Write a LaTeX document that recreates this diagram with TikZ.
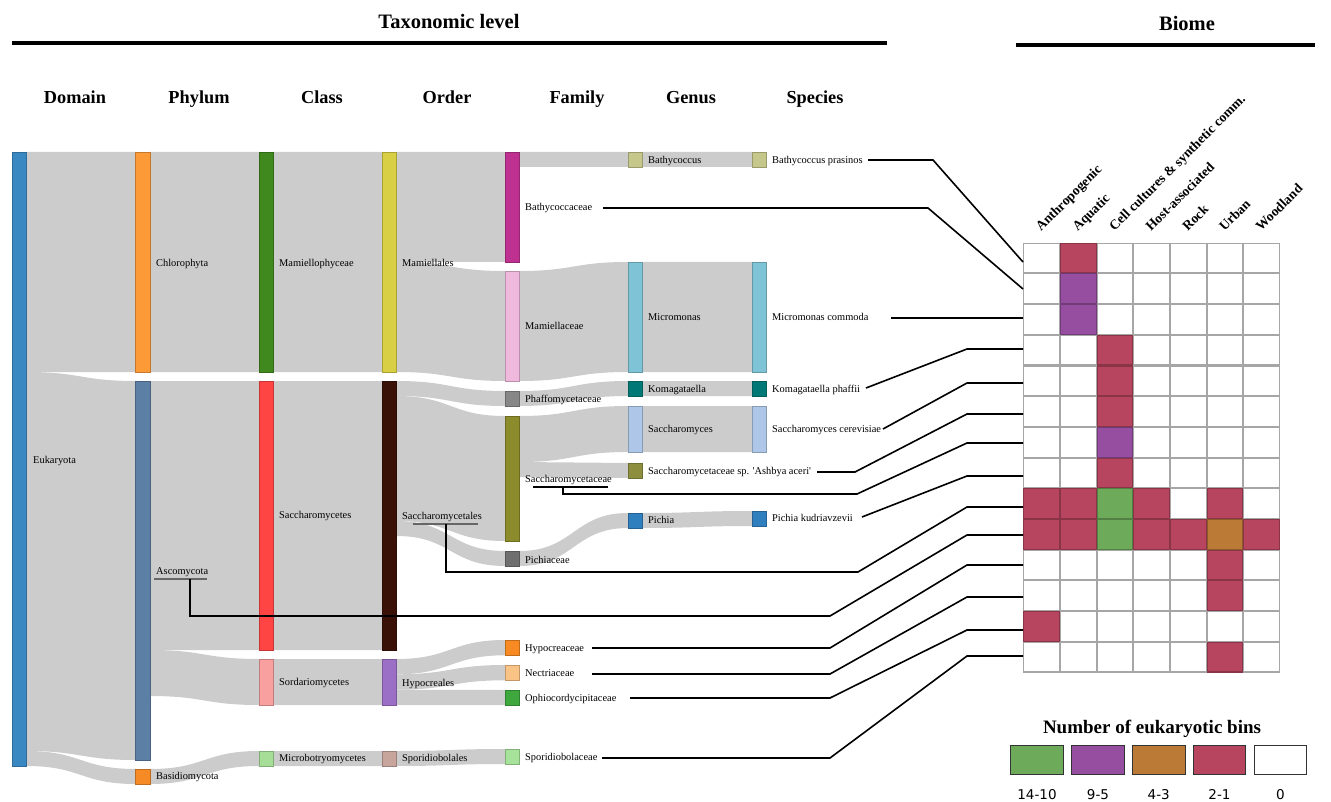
\documentclass[tikz,border=0pt]{standalone}
\usepackage{fontspec}
\setmainfont{Liberation Serif}[Ligatures=TeXOff]
\newfontfamily\legsans{DejaVu Sans}
\definecolor{linkc}{HTML}{CCCCCC}
\definecolor{cEuk}{HTML}{3A88C2}
\definecolor{cChl}{HTML}{FD9A38}
\definecolor{cAsc}{HTML}{5B7FA5}
\definecolor{cBas}{HTML}{F68B26}
\definecolor{cMph}{HTML}{3F891F}
\definecolor{cSac}{HTML}{FF4444}
\definecolor{cSor}{HTML}{F8A0A0}
\definecolor{cMic}{HTML}{A6DE98}
\definecolor{cMal}{HTML}{D8CF44}
\definecolor{cSal}{HTML}{391106}
\definecolor{cHyp}{HTML}{9B6FC5}
\definecolor{cSpo}{HTML}{C8A59C}
\definecolor{cBac}{HTML}{BF3190}
\definecolor{cMac}{HTML}{EEB9DC}
\definecolor{cPha}{HTML}{878787}
\definecolor{cSce}{HTML}{8C8C2C}
\definecolor{cPic}{HTML}{6F6F6F}
\definecolor{cHce}{HTML}{F88A23}
\definecolor{cNec}{HTML}{F9C386}
\definecolor{cOph}{HTML}{3EA73E}
\definecolor{cSpc}{HTML}{A6E29A}
\definecolor{cBat}{HTML}{C6C78A}
\definecolor{cMmo}{HTML}{7FC3D6}
\definecolor{cKom}{HTML}{007876}
\definecolor{cSym}{HTML}{AEC7E8}
\definecolor{cAsh}{HTML}{8D8E3E}
\definecolor{cPch}{HTML}{2F7EBD}
\definecolor{hRed}{HTML}{B8455F}
\definecolor{hPur}{HTML}{964FA0}
\definecolor{hGre}{HTML}{6DAB5B}
\definecolor{hOra}{HTML}{BB7B36}
\newcommand\sklink[6]{%
  \fill[linkc] (#1,#2) .. controls ({(#1+#4)/2},#2) and ({(#1+#4)/2},#5) .. (#4,#5)
    -- (#4,#6) .. controls ({(#1+#4)/2},#6) and ({(#1+#4)/2},#3) .. (#1,#3) -- cycle;}
\newcommand\skbar[4]{%
  \filldraw[fill=#4, draw=#4!78!black, line width=0.8] (#1,#2) rectangle ({#1+14.5},#3);}
\newcommand\hcell[4]{%
  \filldraw[fill=#3, draw=#4, line width=1.1] ({1023.3+36.67*#1+0.5},{242.7+30.7*#2+0.5}) rectangle ++(35.67,29.7);}
\begin{document}
\begin{tikzpicture}[x=1pt,y=-1pt,
  lbl/.style={anchor=base west, inner sep=0pt, font=\fontsize{10.4}{12}\selectfont},
  colhead/.style={anchor=base, inner sep=0pt, font=\fontsize{18.3}{20}\selectfont\bfseries},
  bighead/.style={anchor=base, inner sep=0pt, font=\fontsize{20.5}{23}\selectfont\bfseries},
  biomehead/.style={anchor=base west, inner sep=0pt, rotate=45, font=\fontsize{13.6}{15}\selectfont\bfseries},
  legnum/.style={anchor=base, inner sep=0pt, font=\legsans\fontsize{13.5}{15}\selectfont},
  conn/.style={draw=black, line width=1.6},
  uline/.style={draw=black!60, line width=1.4}]
\useasboundingbox (0,0) rectangle (1331,802);

% ---------- headers ----------
\node[bighead] (taxtitle) at (449,29) {Taxonomic level};
\draw[line width=4] (12,43) -- (887,43);
\node[bighead] (biometitle) at (1187,31) {Biome};
\draw[line width=3.5] (1016,45) -- (1315,45);
\node[colhead] (hDomain) at (75,104) {Domain};
\node[colhead] (hPhylum) at (199,104) {Phylum};
\node[colhead] (hClass) at (322,104) {Class};
\node[colhead] (hOrder) at (447,104) {Order};
\node[colhead] (hFamily) at (577,104) {Family};
\node[colhead] (hGenus) at (691,104) {Genus};
\node[colhead] (hSpecies) at (815,104) {Species};

% ---------- links ----------
% Domain -> Phylum
\sklink{26.5}{152}{372}{135.5}{152}{372}
\sklink{26.5}{372}{751}{135.5}{381}{760}
\sklink{26.5}{751}{766}{135.5}{769}{784}
% Phylum -> Class
\sklink{150}{152}{372}{259}{152}{372}
\sklink{150}{381}{650}{259}{381}{650}
\sklink{150}{650}{696}{259}{659}{705}
\sklink{150}{769}{784}{259}{751}{766}
% Class -> Order
\sklink{273.5}{152}{372}{382}{152}{372}
\sklink{273.5}{381}{650}{382}{381}{650}
\sklink{273.5}{659}{705}{382}{659}{705}
\sklink{273.5}{751}{766}{382}{751}{766}
% Order -> Family
\sklink{396.5}{152}{262}{505}{152}{262}
\sklink{396.5}{262}{372}{505}{271}{381}
\sklink{396.5}{381}{396}{505}{391}{406}
\sklink{396.5}{396}{521}{505}{416}{541}
\sklink{396.5}{521}{536}{505}{551}{566}
\sklink{396.5}{659}{674.3}{505}{640}{655.3}
\sklink{396.5}{674.3}{689.7}{505}{665}{680.3}
\sklink{396.5}{689.7}{705}{505}{690}{705}
\sklink{396.5}{751}{766}{505}{749}{764}
% Family -> Genus
\sklink{519.5}{152}{167}{628}{152}{167}
\sklink{519.5}{271}{381}{628}{262}{372}
\sklink{519.5}{391}{406}{628}{381}{396}
\sklink{519.5}{416}{462}{628}{406}{452}
\sklink{519.5}{462}{477}{628}{463}{478}
\sklink{519.5}{551}{566}{628}{513}{528}
% Genus -> Species
\sklink{642.5}{152}{167}{752}{152}{167}
\sklink{642.5}{262}{372}{752}{262}{372}
\sklink{642.5}{381}{396}{752}{381}{396}
\sklink{642.5}{406}{452}{752}{406}{452}
\sklink{642.5}{513}{528}{752}{511}{526}

% ---------- bars ----------
\skbar{12}{152}{766}{cEuk}
\skbar{135.5}{152}{372}{cChl}
\skbar{135.5}{381}{760}{cAsc}
\skbar{135.5}{769}{784}{cBas}
\skbar{259}{152}{372}{cMph}
\skbar{259}{381}{650}{cSac}
\skbar{259}{659}{705}{cSor}
\skbar{259}{751}{766}{cMic}
\skbar{382}{152}{372}{cMal}
\skbar{382}{381}{650}{cSal}
\skbar{382}{659}{705}{cHyp}
\skbar{382}{751}{766}{cSpo}
\skbar{505}{152}{262}{cBac}
\skbar{505}{271}{381}{cMac}
\skbar{505}{391}{406}{cPha}
\skbar{505}{416}{541}{cSce}
\skbar{505}{551}{566}{cPic}
\skbar{505}{640}{655.3}{cHce}
\skbar{505}{665}{680.3}{cNec}
\skbar{505}{690}{705}{cOph}
\skbar{505}{749}{764}{cSpc}
\skbar{628}{152}{167}{cBat}
\skbar{628}{262}{372}{cMmo}
\skbar{628}{381}{396}{cKom}
\skbar{628}{406}{452}{cSym}
\skbar{628}{463}{478}{cAsh}
\skbar{628}{513}{528}{cPch}
\skbar{752}{152}{167}{cBat}
\skbar{752}{262}{372}{cMmo}
\skbar{752}{381}{396}{cKom}
\skbar{752}{406}{452}{cSym}
\skbar{752}{511}{526}{cPch}

% ---------- labels ----------
\node[lbl] (lEuk) at (33,463.5) {Eukaryota};
\node[lbl] (lChl) at (156,266.5) {Chlorophyta};
\node[lbl] (lAsc) at (156,574.5) {Ascomycota};
\node[lbl] (lBas) at (156,779.5) {Basidiomycota};
\node[lbl] (lMph) at (279,266.5) {Mamiellophyceae};
\node[lbl] (lSac) at (279,518.5) {Saccharomycetes};
\node[lbl] (lSor) at (279,685.5) {Sordariomycetes};
\node[lbl] (lMic) at (279,761.5) {Microbotryomycetes};
\node[lbl] (lMal) at (402,266.5) {Mamiellales};
\node[lbl] (lSal) at (402,519.5) {Saccharomycetales};
\node[lbl] (lHyp) at (402,686.5) {Hypocreales};
\node[lbl] (lSpo) at (402,761.5) {Sporidiobolales};
\node[lbl] (lBac) at (525,210.5) {Bathycoccaceae};
\node[lbl] (lMac) at (525,329.5) {Mamiellaceae};
\node[lbl] (lPha) at (525,402.5) {Phaffomycetaceae};
\node[lbl] (lSce) at (525,482.5) {Saccharomycetaceae};
\node[lbl] (lPic) at (525,563.5) {Pichiaceae};
\node[lbl] (lHce) at (525,651.5) {Hypocreaceae};
\node[lbl] (lNec) at (525,676.5) {Nectriaceae};
\node[lbl] (lOph) at (525,701.5) {Ophiocordycipitaceae};
\node[lbl] (lSpc) at (525,760.5) {Sporidiobolaceae};
\node[lbl] (lBat) at (648,163.5) {Bathycoccus};
\node[lbl] (lMmo) at (648,320.5) {Micromonas};
\node[lbl] (lKom) at (648,392.5) {Komagataella};
\node[lbl] (lSym) at (648,432.5) {Saccharomyces};
\node[lbl] (lAsh) at (648,474.5) {Saccharomycetaceae sp. 'Ashbya aceri'};
\node[lbl] (lPch) at (648,523.5) {Pichia};
\node[lbl] (sBat) at (772,163.5) {Bathycoccus prasinos};
\node[lbl] (sMmo) at (772,320.5) {Micromonas commoda};
\node[lbl] (sKom) at (772,392.5) {Komagataella phaffii};
\node[lbl] (sSym) at (772,432.5) {Saccharomyces cerevisiae};
\node[lbl] (sPch) at (772,521.5) {Pichia kudriavzevii};

% ---------- biome grid ----------
\foreach \c in {0,...,6}{\foreach \r in {0,...,13}{\hcell{\c}{\r}{white}{black!35}}}
\foreach \c/\r in {1/0,2/3,2/4,2/5,2/7,0/8,1/8,3/8,5/8,0/9,1/9,3/9,4/9,6/9,5/10,5/11,0/12,5/13}{\hcell{\c}{\r}{hRed}{hRed!75!black}}
\foreach \c/\r in {1/1,1/2,2/6}{\hcell{\c}{\r}{hPur}{hPur!75!black}}
\foreach \c/\r in {2/8,2/9}{\hcell{\c}{\r}{hGre}{hGre!75!black}}
\hcell{5}{9}{hOra}{hOra!75!black}

\node[biomehead] (bAnt) at (1041,232) {Anthropogenic};
\node[biomehead] (bAqu) at (1077.7,232) {Aquatic};
\node[biomehead] (bCel) at (1114.4,232) {Cell cultures \& synthetic comm.};
\node[biomehead] (bHos) at (1151,232) {Host-associated};
\node[biomehead] (bRoc) at (1187.7,232) {Rock};
\node[biomehead] (bUrb) at (1224.4,232) {Urban};
\node[biomehead] (bWoo) at (1261,232) {Woodland};

% ---------- connectors ----------
\foreach \i/\y in {1/262,2/289,3/318,4/349,5/383,6/414,7/443,8/476,9/507,10/535,11/565,12/597,13/630,14/656}{
  \coordinate (row\i) at (1023,\y);
  \coordinate (mid\i) at (967,\y);}
\coordinate (a1) at (868,160);  \coordinate (b1) at (933,160);
\coordinate (a2) at (603,208);  \coordinate (b2) at (928,208);
\coordinate (a3) at (891,318);
\coordinate (a4) at (866,388);
\coordinate (a5) at (883,429);
\coordinate (a6) at (817,472);  \coordinate (b6) at (855,472);
\coordinate (u7) at (563,487);  \coordinate (a7) at (563,494);  \coordinate (b7) at (857,494);
\coordinate (a8) at (862,517);
\coordinate (u9) at (446,524);  \coordinate (a9) at (446,572);  \coordinate (b9) at (858,572);
\coordinate (u10) at (190,579); \coordinate (a10) at (190,616); \coordinate (b10) at (830,616);
\coordinate (a11) at (592,648); \coordinate (b11) at (830,648);
\coordinate (a12) at (592,674); \coordinate (b12) at (830,674);
\coordinate (a13) at (630,698); \coordinate (b13) at (830,698);
\coordinate (a14) at (602,758); \coordinate (b14) at (830,758);

\draw[uline] (413,524) -- (478,524);
\draw[uline] (154,579) -- (207,579);
\draw[conn] (533,487) -- (608,487);

\draw[conn] (a1) -- (b1) -- (row1);
\draw[conn] (a2) -- (b2) -- (row2);
\draw[conn] (a3) -- (row3);
\draw[conn] (a4) -- (mid4) -- (row4);
\draw[conn] (a5) -- (mid5) -- (row5);
\draw[conn] (a6) -- (b6) -- (mid6) -- (row6);
\draw[conn] (u7) -- (a7) -- (b7) -- (mid7) -- (row7);
\draw[conn] (a8) -- (mid8) -- (row8);
\draw[conn] (u9) -- (a9) -- (b9) -- (mid9) -- (row9);
\draw[conn] (u10) -- (a10) -- (b10) -- (mid10) -- (row10);
\draw[conn] (a11) -- (b11) -- (mid11) -- (row11);
\draw[conn] (a12) -- (b12) -- (mid12) -- (row12);
\draw[conn] (a13) -- (b13) -- (mid13) -- (row13);
\draw[conn] (a14) -- (b14) -- (mid14) -- (row14);

% ---------- legend ----------
\node[bighead, font=\fontsize{19}{21}\selectfont\bfseries] (legtitle) at (1152,733) {Number of eukaryotic bins};
\filldraw[fill=hGre, draw=black!80, line width=0.9] (1010.7,745) rectangle (1063.3,774);
\filldraw[fill=hPur, draw=black!80, line width=0.9] (1071.7,745) rectangle (1124.3,774);
\filldraw[fill=hOra, draw=black!80, line width=0.9] (1132.3,745) rectangle (1185,774);
\filldraw[fill=hRed, draw=black!80, line width=0.9] (1193.3,745) rectangle (1245.7,774);
\filldraw[fill=white, draw=black!80, line width=0.9] (1254,745) rectangle (1306.7,774);
\node[legnum] (n1) at (1037,799) {14-10};
\node[legnum] (n2) at (1098,799) {9-5};
\node[legnum] (n3) at (1158.7,799) {4-3};
\node[legnum] (n4) at (1219.5,799) {2-1};
\node[legnum] (n5) at (1280.4,799) {0};
\end{tikzpicture}
\end{document}
